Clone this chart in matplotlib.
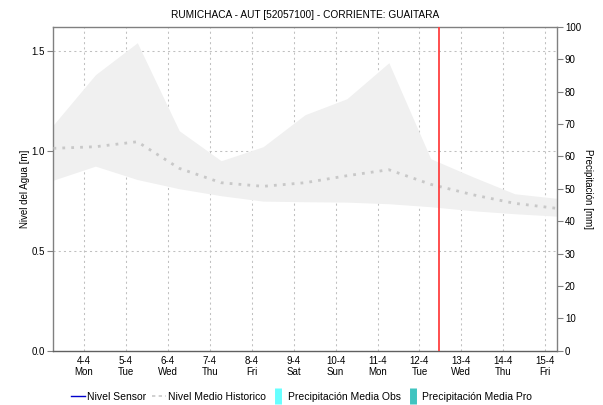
import matplotlib
matplotlib.use("Agg")
import matplotlib.pyplot as plt
from matplotlib.lines import Line2D

plt.rcParams['font.family'] = ['Liberation Sans', 'DejaVu Sans']

# Day offsets from 4-4 (data sampled once a day, ~06:30)
day_offset = [-0.73, 0.27, 1.27, 2.27, 3.27, 4.27, 5.27, 6.27, 7.27, 8.27, 9.27, 10.27, 11.27]
hist_upper = [1.13, 1.38, 1.54, 1.10, 0.95, 1.02, 1.18, 1.26, 1.44, 0.96, 0.87, 0.785, 0.762]
hist_lower = [0.853, 0.923, 0.856, 0.81, 0.775, 0.748, 0.745, 0.743, 0.735, 0.72, 0.70, 0.685, 0.673]
hist_mean = [1.012, 1.02, 1.045, 0.912, 0.84, 0.822, 0.84, 0.875, 0.905, 0.832, 0.78, 0.737, 0.712]

tick_days = list(range(12))
tick_labels = ["4-4\nMon", "5-4\nTue", "6-4\nWed", "7-4\nThu", "8-4\nFri", "9-4\nSat",
               "10-4\nSun", "11-4\nMon", "12-4\nTue", "13-4\nWed", "14-4\nThu", "15-4\nFri"]
now_day = 8.47

fig = plt.figure(figsize=(6.03, 4.05), dpi=100)
ax = fig.add_axes([0.0887, 0.134, 0.8342, 0.800])

ax.fill_between(day_offset, hist_lower, hist_upper, color="#f0f0f0", lw=0, zorder=1)
ax.plot(day_offset, hist_mean, color="#c8c8c8", lw=2.0, ls=(0, (1, 2.2)), zorder=3)
ax.axvline(now_day, color="#ff4040", lw=1.3, zorder=4)

ax.set_xlim(-0.73, 11.27)
ax.set_ylim(0, 1.62)
ax.set_xticks(tick_days)
ax.set_xticklabels(tick_labels, fontsize=7, linespacing=1.1)
ax.set_yticks([0.0, 0.5, 1.0, 1.5])
ax.set_yticklabels(["0.0", "0.5", "1.0", "1.5"], fontsize=7)
ax.tick_params(axis='x', length=0, pad=4)
ax.tick_params(axis='y', length=4, width=0.8, color="#808080", pad=2)

ax.grid(True, color="#c0c0c0", lw=0.75, ls=(0, (2, 3)), zorder=2)
ax.set_axisbelow(True)

for side in ("left", "right", "top"):
    ax.spines[side].set_color("#808080")
    ax.spines[side].set_linewidth(1.0)
ax.spines["bottom"].set_color("#606060")
ax.spines["bottom"].set_linestyle((0, (1, 1)))
ax.spines["bottom"].set_linewidth(1.0)

ax.set_ylabel("Nivel del Agua [m]", fontsize=7, labelpad=1.5)
ax.set_title("RUMICHACA - AUT [52057100] - CORRIENTE: GUAITARA", fontsize=7.3, pad=6)

ax2 = ax.twinx()
ax2.set_ylim(0, 100)
ax2.set_yticks(range(0, 101, 10))
ax2.set_yticklabels([str(v) for v in range(0, 101, 10)], fontsize=7)
ax2.tick_params(axis='y', length=4, width=0.8, color="#808080", pad=2)
for side in ax2.spines:
    ax2.spines[side].set_visible(False)
ax2.set_ylabel("Precipitación [mm]", fontsize=7, rotation=-90, labelpad=9)

handles = [
    Line2D([], [], color="#0000cc", lw=1.0),
    Line2D([], [], color="#c8c8c8", lw=1.2, ls=(0, (2, 2))),
    Line2D([], [], color="#66ffff", marker="|", ls="none", markersize=11, markeredgewidth=5),
    Line2D([], [], color="#40c4c0", marker="|", ls="none", markersize=11, markeredgewidth=5),
]
labels = ["Nivel Sensor", "Nivel Medio Historico", "Precipitación Media Obs", "Precipitación Media Pro"]
fig.legend(handles, labels, loc="center", bbox_to_anchor=(0.50, 0.02), ncol=4, frameon=False,
           fontsize=7.5, handlelength=1.35, handletextpad=0.2, columnspacing=0.55)

fig.savefig("out.png", dpi=100)
